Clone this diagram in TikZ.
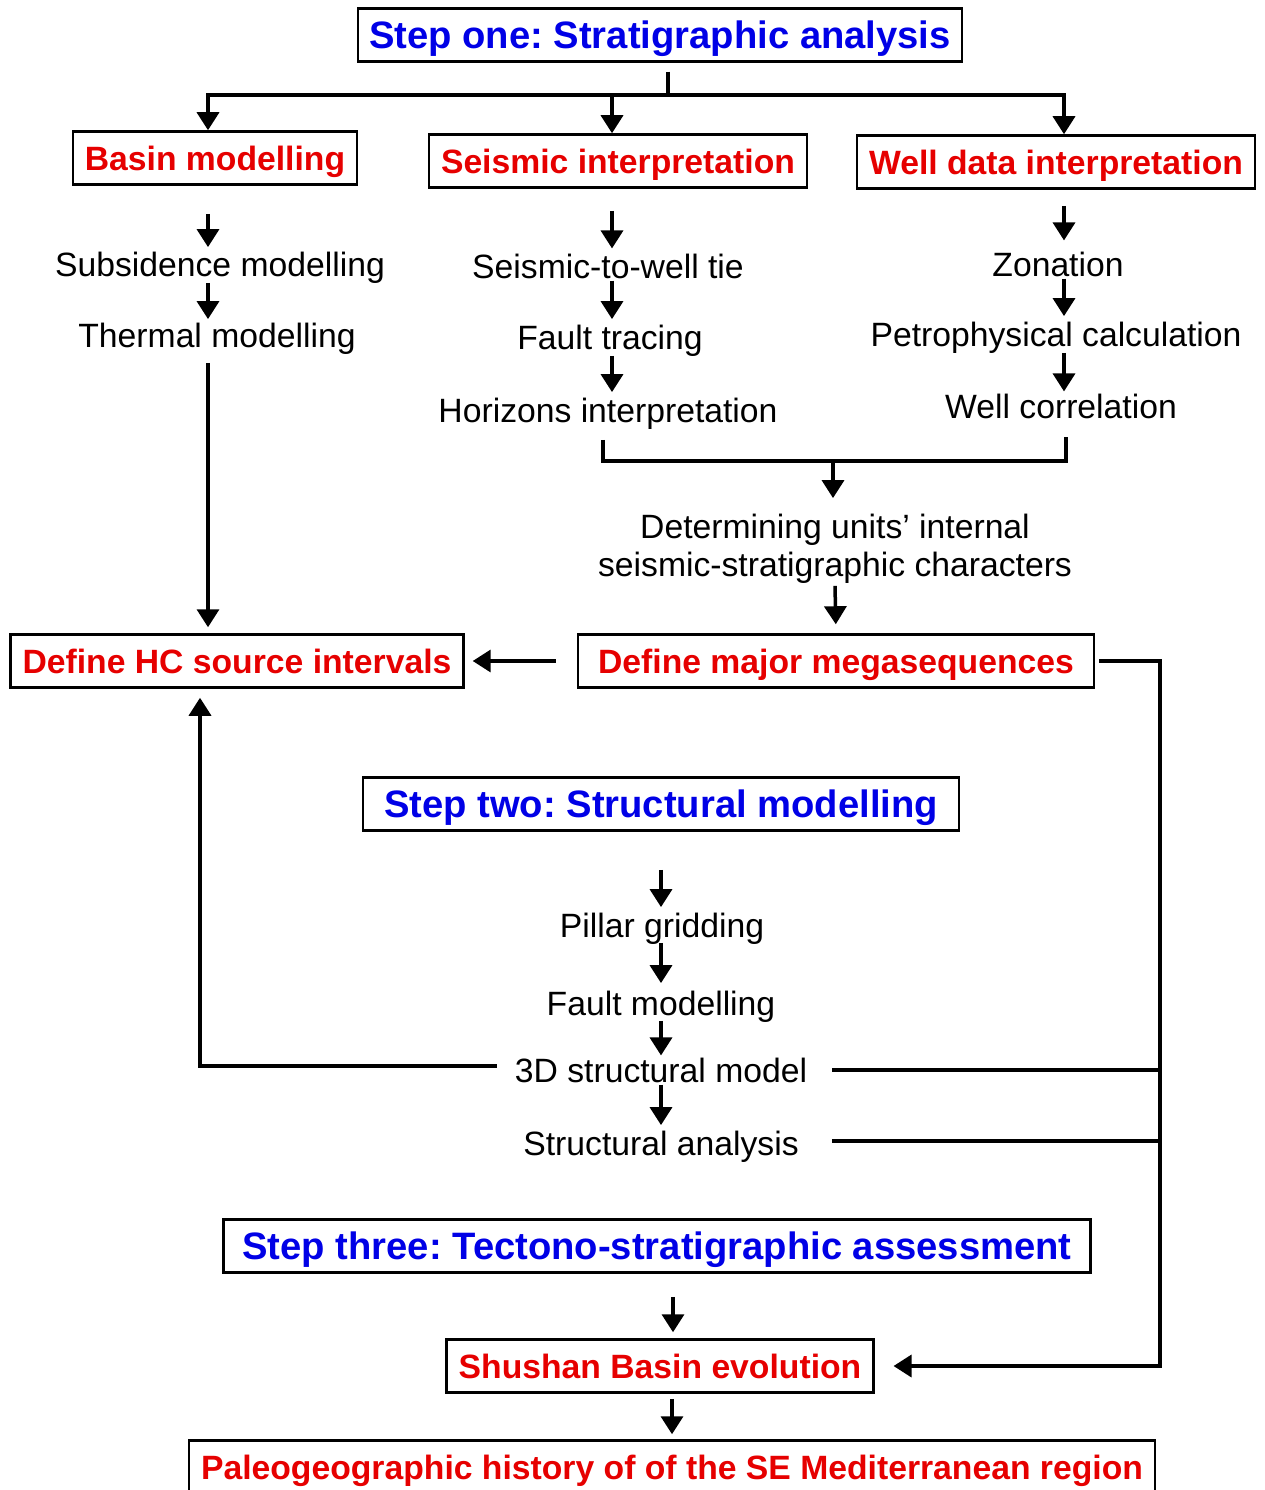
\documentclass[tikz,border=0pt]{standalone}
\usepackage{fontspec}
\setmainfont{Liberation Sans}
\usetikzlibrary{arrows.meta,positioning,calc}
\definecolor{stepblue}{RGB}{0,0,230}
\definecolor{taskred}{RGB}{230,0,0}
\tikzset{
  txt/.style = {align=center, inner sep=2pt, font=\fontsize{33.7}{38}\selectfont},
  task/.style = {draw, line width=2.5pt, inner xsep=12pt, inner ysep=0pt, minimum height=53pt, text depth=0pt, text=taskred, font=\fontsize{33.7}{38}\selectfont\bfseries},
  stage/.style = {task, inner xsep=11pt, text=stepblue, font=\fontsize{38.2}{42}\selectfont\bfseries},
  link/.style = {line width=3.5pt},
  flow/.style = {link, -{Triangle[length=18pt,width=22pt]}},
}
\frenchspacing

\begin{document}
\begin{tikzpicture}[x=1pt,y=-1pt]
\useasboundingbox (0,0) rectangle (1264,1490);

\node [stage] (s1) at (660,35) {Step one: Stratigraphic analysis};
\node [task] (basin) at (215,158) {Basin modelling};
\node [task] (seis) at (618,161) {Seismic interpretation};
\node [task] (well) at (1056,162) {Well data interpretation};

\node [txt] (subs) at (220,268) {Subsidence modelling};
\node [txt] (therm) at (217,339) {Thermal modelling};
\node [txt] (tie) at (608,266) {Seismic-to-well tie};
\node [txt] (fault) at (610,341) {Fault tracing};
\node [txt] (hor) at (608,414) {Horizons interpretation};
\node [txt] (zon) at (1058,264) {Zonation};
\node [txt] (petro) at (1056,338) {Petrophysical calculation};
\node [txt] (corr) at (1061,406) {Well correlation};
\node [txt] (units) at (835,549) {Determining units’ internal\\seismic-stratigraphic characters};

\node [task] (hc) at (237,661) {Define HC source intervals};
\node [task, inner xsep=20pt] (mega) at (836,661) {Define major megasequences};

\node [stage, inner xsep=21pt] (s2) at (661,804) {Step two: Structural modelling};
\node [txt] (pillar) at (662,929) {Pillar gridding};
\node [txt] (fmod) at (661,1007) {Fault modelling};
\node [txt] (model3d) at (661,1070) {3D structural model};
\node [txt] (sana) at (661,1147) {Structural analysis};

\node [stage, inner xsep=19pt] (s3) at (657,1246) {Step three: Tectono-stratigraphic assessment};
\node [task] (shushan) at (660,1366) {Shushan Basin evolution};
\node [task] (paleo) at (672,1467) {Paleogeographic history of of the SE Mediterranean region};

% column lines
\coordinate (c1) at (208,0);
\coordinate (c2) at (612,0);
\coordinate (c3) at (1064,0);
\coordinate (c4) at (661,0);
\coordinate (hub) at (668,95);
\coordinate (trunk) at (1160,0);
\coordinate (jn) at (833,461);

% step one split
\draw [link, shorten <=9pt] (s1.south -| hub) -- (hub);
\draw [flow] (hub) -| (basin.north -| c1);
\draw [flow] (hub) -| (seis.north -| c2);
\draw [flow] (hub) -| (well.north -| c3);

% basin column
\draw [flow, shorten <=28pt, shorten >=3pt] (basin.south -| c1) -- (subs.north -| c1);
\draw [flow, shorten <=-3pt, shorten >=2pt] (subs.south -| c1) -- (therm.north -| c1);
\draw [flow, shorten <=6pt, shorten >=6pt] (therm.south -| c1) -- (hc.north -| c1);

% seismic column
\draw [flow, shorten <=22pt, shorten >=3pt] (seis.south -| c2) -- (tie.north -| c2);
\draw [flow, shorten >=4pt] (tie.south -| c2) -- (fault.north -| c2);
\draw [flow, shorten <=-3pt, shorten >=4pt] (fault.south -| c2) -- (hor.north -| c2);

% well column
\draw [flow, shorten <=16pt, shorten >=9pt] (well.south -| c3) -- (zon.north -| c3);
\draw [flow, shorten >=4pt] (zon.south -| c3) -- (petro.north -| c3);
\draw [flow, shorten <=-3pt] (petro.south -| c3) -- (corr.north -| c3);

% bracket
\draw [link] ([xshift=-5pt,yshift=-8pt]hor.south) |- (jn) -| ([xshift=5pt,yshift=-16pt]corr.south);
\draw [flow] (jn) -- ([yshift=14pt]units.north -| jn);
\draw [flow, shorten >=9pt] (units.south) -- (mega.north);
\draw [flow, shorten <=21pt, shorten >=8pt] (mega.west) -- (hc.east);
\draw [flow, shorten <=4pt, shorten >=19pt] (mega.east) -| (trunk |- shushan) -- (shushan.east);

% step two
\draw [flow, shorten <=38pt, shorten >=4pt] (s2.south -| c4) -- (pillar.north -| c4);
\draw [flow, shorten <=-4pt, shorten >=6pt] (pillar.south -| c4) -- (fmod.north -| c4);
\draw [flow, shorten <=-4pt] (fmod.south -| c4) -- (model3d.north -| c4);
\draw [flow, shorten >=4pt] (model3d.south -| c4) -- (sana.north -| c4);
\draw [flow, shorten <=16pt, shorten >=9pt] ([yshift=4pt]model3d.west) -| ([xshift=-37pt]hc.south);
\draw [link, shorten <=23pt] (model3d.east) -- (model3d.east -| trunk);
\draw [link, shorten <=31pt] ([yshift=6pt]sana.east) -- ([yshift=6pt]sana.east -| trunk);

% step three
\draw [flow, shorten <=23pt, shorten >=6pt] ([xshift=16pt]s3.south) -- ([xshift=16pt]s3.south |- shushan.north);
\draw [flow, shorten <=5pt, shorten >=5pt] ([xshift=12pt]shushan.south) -- ([xshift=12pt]shushan.south |- paleo.north);
\end{tikzpicture}
\end{document}
